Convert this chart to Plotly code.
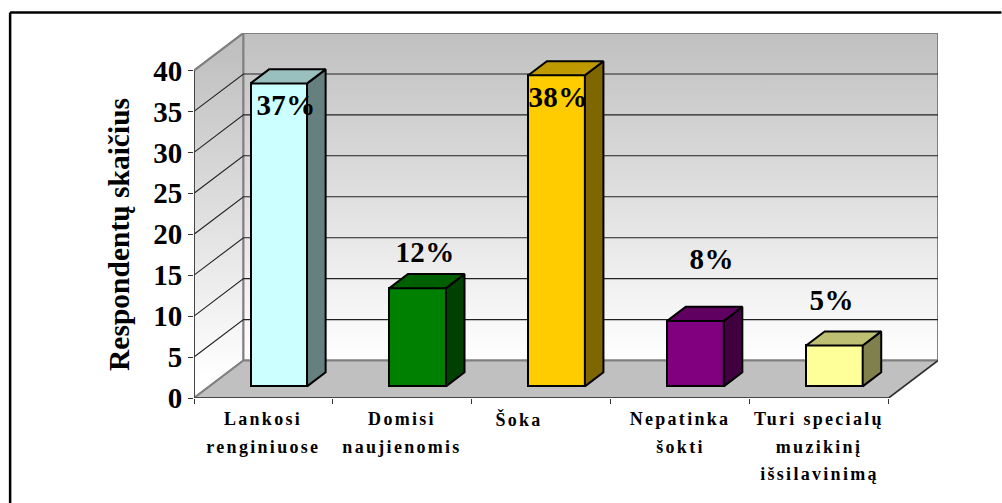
import plotly.graph_objects as go

# ---- data ----
categories = ["Lankosi\nrenginiuose", "Domisi\nnaujienomis", "Šoka", "Nepatinka\nšokti",
              "Turi specialų\nmuzikinį\nišsilavinimą"]
values = [37, 12, 38, 8, 5]
front_colors = ["#CCFFFF", "#008000", "#FFCC00", "#800080", "#FFFF99"]
top_colors = ["#99BFBF", "#006000", "#BF9900", "#600060", "#BFBF73"]
side_colors = ["#668080", "#004000", "#806600", "#400040", "#80804D"]
y_ticks = [0, 5, 10, 15, 20, 25, 30, 35, 40]
y_title = "Respondentų skaičius"

# manual label nudges (px): the source labels were dragged by hand
label_dx = [7, 7, 1, 16, -2]
label_dy = [-22, 36, -22, 62, 45]
cat_dx = [0, 0, -22, 0, 0]

# ---- geometry ----
X0, X1, Y0, Y40 = 194.0, 889.0, 397.7, 70.0
DX, DY = 49.5, 37.5
W, H = 1002, 503
ppx = (X1 - X0) / 5
ppy = (Y0 - Y40) / 40
ddx = DX / ppx       # full depth in x data units
ddy = DY / ppy       # full depth in y data units
F0, F1 = 0.31, 0.685 # bar depth fractions
BW = 0.407


def P(x, y, d=0.0):
    return x + ddx * d, y + ddy * d


def poly(pts):
    xs, ys = zip(*pts)
    return list(xs) + [xs[0]], list(ys) + [ys[0]]


fig = go.Figure()
SCALE = [[0, "#C0C0C0"], [1, "#FFFFFF"]]
GRAD = dict(type="vertical", start=40 + ddy, stop=ddy, colorscale=SCALE)
GRADL = dict(type="vertical", start=40 + ddy * 0.5, stop=ddy * 0.5, colorscale=SCALE)
WALL = dict(color="#808080", width=2)

# left wall
xs, ys = poly([P(0, 0), P(0, 40), P(0, 40, 1), P(0, 0, 1)])
fig.add_trace(go.Scatter(x=xs, y=ys, mode="lines", fill="toself", fillgradient=GRADL, line=WALL,
                         hoverinfo="skip", showlegend=False))
# back wall
xs, ys = poly([P(0, 0, 1), P(5, 0, 1), P(5, 40, 1), P(0, 40, 1)])
fig.add_trace(go.Scatter(x=xs, y=ys, mode="lines", fill="toself", fillgradient=GRAD, line=WALL,
                         hoverinfo="skip", showlegend=False))
# floor
xs, ys = poly([P(0, 0), P(5, 0), P(5, 0, 1), P(0, 0, 1)])
fig.add_trace(go.Scatter(x=xs, y=ys, mode="lines", fill="toself", fillcolor="#C0C0C0", line=WALL,
                         hoverinfo="skip", showlegend=False))
# floor right edge
a, b = P(5, 0), P(5, 0, 1)
fig.add_trace(go.Scatter(x=[a[0], b[0]], y=[a[1], b[1]], mode="lines", hoverinfo="skip", showlegend=False,
                         line=dict(color="#222222", width=1.1)))
# gridlines
for t in y_ticks[1:]:
    a, b, c = P(0, t), P(0, t, 1), P(5, t, 1)
    if t == y_ticks[-1]:
        xx, yy = [a[0], b[0]], [a[1], b[1]]
    else:
        xx, yy = [a[0], b[0], c[0]], [a[1], b[1], c[1]]
    fig.add_trace(go.Scatter(x=xx, y=yy, mode="lines", hoverinfo="skip", showlegend=False,
                             line=dict(color="#808080" if t == y_ticks[-1] else "#222222",
                                       width=2 if t == y_ticks[-1] else 1.1)))

# axis lines
fig.add_trace(go.Scatter(x=[0, 0, 5], y=[40, 0, 0], mode="lines", hoverinfo="skip", showlegend=False,
                         line=dict(color="#333333", width=1.5)))

# bars
LINE = dict(color="#000000", width=2)
centres = [P(i + 0.5, 0, F0)[0] for i in range(len(values))]
base = P(0, 0, F0)[1]
fig.add_trace(go.Bar(x=centres, y=values, base=base, width=BW, zorder=2,
                     marker=dict(color=front_colors, line=LINE), showlegend=False))
for i, v in enumerate(values):
    c = i + 0.5
    l, r = c - BW / 2, c + BW / 2
    xs, ys = poly([P(r, 0, F0), P(r, 0, F1), P(r, v, F1), P(r, v, F0)])
    fig.add_trace(go.Scatter(x=xs, y=ys, mode="lines", fill="toself", fillcolor=side_colors[i], line=LINE,
                             hoverinfo="skip", showlegend=False, zorder=3))
    xs, ys = poly([P(l, v, F0), P(r, v, F0), P(r, v, F1), P(l, v, F1)])
    fig.add_trace(go.Scatter(x=xs, y=ys, mode="lines", fill="toself", fillcolor=top_colors[i], line=LINE,
                             hoverinfo="skip", showlegend=False, zorder=3))

# data labels
css = ["body{margin:0!important}"]
n = 0
for i, v in enumerate(values):
    x, y = P(i + 0.5, v, F0)
    fig.add_annotation(x=x, y=y, text=f"{v}%", showarrow=False, xshift=label_dx[i], yshift=label_dy[i],
                       font=dict(family="Liberation Serif", size=29, color="#000000", weight="bold"))
    css.append(f'.annotation[data-index="{n}"] text{{letter-spacing:0.4px}}')
    n += 1

# category labels, one annotation per line to hold the wide line pitch
for i, c in enumerate(categories):
    for j, line in enumerate(c.split("\n")):
        fig.add_annotation(x=i + 0.5, y=0, text=line, showarrow=False, xshift=cat_dx[i], yshift=-21 - 27.5 * j,
                           font=dict(family="Liberation Serif", size=18, color="#000000", weight="bold"))
        css.append(f'.annotation[data-index="{n}"] text{{letter-spacing:2.3px}}')
        n += 1

# y title
fig.add_annotation(xref="paper", yref="y", x=(119 - X0) / (X1 + DX - X0), y=(Y0 - 234.5) / ppy, text=y_title,
                   textangle=-90, showarrow=False, xanchor="center", yanchor="middle",
                   font=dict(family="Liberation Serif", size=29.5, color="#000000", weight="bold"))

# outer frame lines (top and left only visible)
fw = X1 + DX - X0
fh = Y0 - (Y40 - DY)
fig.add_shape(type="line", xref="paper", yref="paper", x0=(10 - X0) / fw, x1=(10 - X0) / fw,
              y0=(Y0 - H) / fh, y1=(Y0 - 12) / fh, line=dict(color="#000000", width=2.5))
fig.add_shape(type="line", xref="paper", yref="paper", x0=(10 - X0) / fw, x1=(W - X0) / fw,
              y0=(Y0 - 12) / fh, y1=(Y0 - 12) / fh, line=dict(color="#000000", width=2.5))

fig.update_layout(
    width=W, height=H, autosize=False, paper_bgcolor="#FFFFFF", plot_bgcolor="rgba(0,0,0,0)",
    margin=dict(l=X0, r=W - (X1 + DX), t=Y40 - DY, b=H - Y0, pad=0),
    showlegend=False, bargap=0,
    xaxis=dict(range=[0, 5 + ddx], tickvals=[0, 1, 2, 3, 4, 5], ticks="outside", ticklen=5, tickwidth=1.3,
               tickcolor="#333333", showticklabels=False, showgrid=False, zeroline=False, showline=False),
    yaxis=dict(range=[0, 40 + ddy], tickvals=y_ticks, ticks="outside", ticklen=5, tickwidth=1.3,
               tickcolor="#333333", showgrid=False, zeroline=False, showline=False,
               tickfont=dict(family="Liberation Serif", size=29, color="#000000", weight="bold")),
)

POST = "var s=document.createElement('style');s.textContent=" + repr(" ".join(css)) + ";document.head.appendChild(s);"
fig.write_html("out.html", post_script=POST, config={"displayModeBar": False})
